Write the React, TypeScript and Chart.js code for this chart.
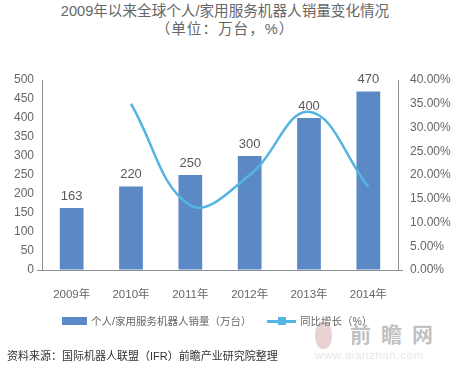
import React, { useEffect, useRef } from "react";
import { Chart, registerables } from "chart.js";

Chart.register(...registerables);

const categories = ["2009年", "2010年", "2011年", "2012年", "2013年", "2014年"];
const sales = [163, 220, 250, 300, 400, 470];
const growth: (number | null)[] = [null, 35.0, 13.6, 20.0, 33.3, 17.5];
const titleLine1 = "2009年以来全球个人/家用服务机器人销量变化情况";
const titleLine2 = "（单位：万台，%）";
const salesLabel = "个人/家用服务机器人销量（万台）";
const growthLabel = "同比增长（%）";
const sourceText = "资料来源：国际机器人联盟（IFR）前瞻产业研究院整理";
const watermarkText = "前瞻网";
const watermarkUrl = "www.qianzhan.com";

const BAR_COLOR = "#5b89c5";
const LINE_COLOR = "#55b5e2";
const AXIS_COLOR = "#8b9096";
const TEXT_COLOR = "#666666";
const FONT = "'Liberation Sans', 'Noto Sans CJK SC', sans-serif";

const barLabels = {
  id: "barLabels",
  afterDatasetsDraw(chart: any) {
    const ctx = chart.ctx;
    const meta = chart.getDatasetMeta(0);
    ctx.save();
    ctx.fillStyle = "#5a5a5a";
    ctx.font = `13px ${FONT}`;
    ctx.textAlign = "center";
    ctx.textBaseline = "bottom";
    meta.data.forEach((el: any, i: number) => {
      const v = chart.data.datasets[0].data[i];
      ctx.fillText(String(v), el.x, el.y - 5);
    });
    ctx.restore();
  },
};

export default function App() {
  const ref = useRef<HTMLCanvasElement | null>(null);

  useEffect(() => {
    if (!ref.current) return;
    const chart = new Chart(ref.current, {
      type: "bar",
      data: {
        labels: categories,
        datasets: [
          {
            type: "bar",
            label: salesLabel,
            data: sales,
            yAxisID: "y",
            backgroundColor: BAR_COLOR,
            categoryPercentage: 0.8,
            barPercentage: 0.5,
            order: 1,
          },
          {
            type: "line",
            label: growthLabel,
            data: growth,
            yAxisID: "y1",
            borderColor: LINE_COLOR,
            backgroundColor: LINE_COLOR,
            borderWidth: 2.5,
            pointRadius: 0,
            tension: 0.4,
            order: 0,
          },
        ] as any,
      },
      options: {
        animation: false,
        responsive: false,
        maintainAspectRatio: false,
        layout: { padding: { top: 80, bottom: 68, left: 0, right: 0 } },
        plugins: {
          legend: { display: false },
          title: { display: false },
          tooltip: { enabled: false },
        },
        scales: {
          x: {
            grid: { display: false },
            border: { display: true, color: AXIS_COLOR, width: 1 },
            ticks: {
              color: TEXT_COLOR,
              font: { size: 11.5, family: FONT },
              padding: 10,
              maxRotation: 0,
            },
            afterFit(scale: any) {
              scale.height = 32;
            },
          },
          y: {
            position: "left",
            min: 0,
            max: 500,
            grid: {
              display: true,
              drawOnChartArea: false,
              tickLength: 5,
              color: (c: any) => (c.tick && c.tick.value === 0 ? AXIS_COLOR : "rgba(0,0,0,0)"),
            },
            border: { display: true, color: AXIS_COLOR, width: 1 },
            ticks: {
              stepSize: 50,
              color: TEXT_COLOR,
              font: { size: 12, family: FONT },
              padding: 3,
            },
            afterFit(scale: any) {
              scale.width = 42;
            },
          },
          y1: {
            position: "right",
            min: 0,
            max: 40,
            grid: {
              display: true,
              drawOnChartArea: false,
              tickLength: 5,
              color: (c: any) => (c.tick && c.tick.value === 0 ? AXIS_COLOR : "rgba(0,0,0,0)"),
            },
            border: { display: true, color: AXIS_COLOR, width: 1 },
            ticks: {
              stepSize: 5,
              color: TEXT_COLOR,
              font: { size: 12, family: FONT },
              padding: 7,
              callback: (v: any) => Number(v).toFixed(2) + "%",
            },
            afterFit(scale: any) {
              scale.width = 66;
            },
          },
        },
      } as any,
      plugins: [barLabels],
    });
    return () => chart.destroy();
  }, []);

  const textBase: React.CSSProperties = {
    position: "absolute",
    fontFamily: FONT,
    whiteSpace: "nowrap",
    lineHeight: 1,
  };

  return (
    <div style={{ position: "fixed", left: 0, top: 0, width: 464, height: 370, background: "#fff", overflow: "hidden" }}>
      <div style={{ ...textBase, left: 0, width: 450, top: 4, textAlign: "center", fontSize: 14.6, color: "#666" }}>{titleLine1}</div>
      <div style={{ ...textBase, left: 0, width: 450, top: 22, textAlign: "center", fontSize: 14.6, color: "#666", letterSpacing: 1 }}>{titleLine2}</div>

      <div style={{ position: "absolute", left: 315, top: 321, width: 17, height: 28, borderRadius: "50% 50% 45% 45%", background: "rgba(190,130,125,0.35)" }} />
      <div style={{ ...textBase, left: 350, top: 324, fontSize: 21, fontWeight: 700, color: "rgba(140,140,140,0.55)", letterSpacing: 10 }}>{watermarkText}</div>
      <div style={{ ...textBase, left: 315, top: 350, fontSize: 11.5, letterSpacing: 0.6, color: "rgba(180,180,180,0.35)" }}>{watermarkUrl}</div>

      <canvas ref={ref} width={464} height={370} style={{ position: "absolute", left: 0, top: 0, width: 464, height: 370 }} />

      <div style={{ position: "absolute", left: 62, top: 317, width: 25, height: 8, background: BAR_COLOR }} />
      <div style={{ ...textBase, left: 91, top: 316, fontSize: 10.5, color: TEXT_COLOR }}>{salesLabel}</div>
      <div style={{ position: "absolute", left: 267, top: 320, width: 29, height: 2.5, background: LINE_COLOR }} />
      <div style={{ position: "absolute", left: 278, top: 317, width: 8, height: 8, background: LINE_COLOR }} />
      <div style={{ ...textBase, left: 300, top: 316, fontSize: 10.5, color: TEXT_COLOR }}>{growthLabel}</div>

      <div style={{ ...textBase, left: 7, top: 351, fontSize: 11, color: "#333" }}>{sourceText}</div>
    </div>
  );
}
